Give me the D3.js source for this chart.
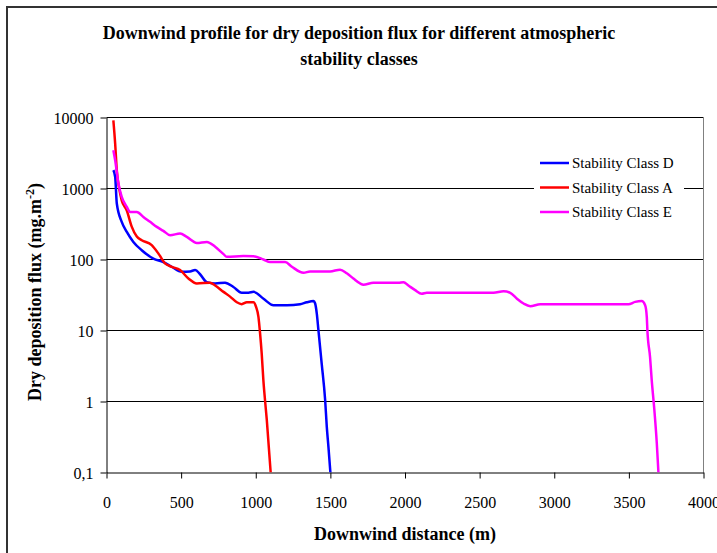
<!DOCTYPE html>
<html>
<head>
<meta charset="utf-8">
<script src="https://cdn.jsdelivr.net/npm/d3@7"></script>
<style>
  body { margin: 0; background: #fff; }
  svg { font-family: "Liberation Serif", "Times New Roman", serif; }
</style>
</head>
<body>
<div id="chart"></div>
<script>
// downwind distance (m) and flux (mg.m-2)
var distA = [46, 58, 69, 87, 102, 136, 169, 203, 236, 303, 348, 392, 437, 493, 549, 605, 694, 728, 784, 828, 873, 906, 940, 985, 1002, 1018, 1029, 1040, 1051, 1062, 1074, 1100];
var fluxA = [9100, 4300, 1800, 950, 680, 490, 290, 210, 187, 159, 121, 88, 79, 71, 54, 46, 47, 43, 35, 30, 25, 23.5, 25, 25, 21.5, 15.6, 9.1, 4.7, 2.0, 1.05, 0.55, 0.1];

var distD = [46, 58, 69, 102, 136, 180, 236, 314, 381, 437, 504, 560, 594, 627, 672, 728, 794, 850, 906, 951, 985, 1052, 1119, 1209, 1297, 1342, 1387, 1398, 1409, 1420, 1442, 1465, 1476, 1487, 1500];
var fluxD = [1810, 1460, 615, 339, 245, 177, 135, 103, 92, 79, 67, 68, 71, 62, 48, 46, 47, 41, 34, 34, 35, 28, 22.7, 22.7, 23.5, 25, 26, 24, 17.3, 10.1, 3.4, 1.05, 0.44, 0.23, 0.1];

var distE = [46, 58, 80, 102, 136, 158, 203, 247, 292, 337, 381, 426, 493, 538, 605, 672, 728, 784, 806, 917, 985, 1052, 1096, 1197, 1242, 1320, 1364, 1498, 1565, 1610, 1654, 1699, 1721, 1788, 1956, 1990, 2023, 2068, 2112, 2146, 2593, 2660, 2705, 2750, 2794, 2839, 2906, 3497, 3542, 3586, 3609, 3620, 3624, 3642, 3653, 3669, 3687, 3698];
var fluxE = [3460, 2500, 1175, 762, 551, 468, 468, 398, 339, 288, 253, 220, 232, 208, 171, 177, 151, 119, 109, 112, 111, 100, 92, 92, 79, 65, 68, 68, 72, 64, 54, 46, 44, 47, 47, 48, 43, 37, 33, 34, 34, 35.8, 34, 28, 24, 22, 23.4, 23.4, 25.3, 26, 22.7, 15.6, 10.1, 4.2, 2.0, 0.84, 0.26, 0.1];

var seriesNames = ["Stability Class D", "Stability Class A", "Stability Class E"];
var seriesColors = ["#0000ff", "#ff0000", "#ff00ff"];
var xTicks = [0, 500, 1000, 1500, 2000, 2500, 3000, 3500, 4000];
var yTicks = [0.1, 1, 10, 100, 1000, 10000];
var yTickLabels = ["0,1", "1", "10", "100", "1000", "10000"];

var series = [
  { name: seriesNames[0], color: seriesColors[0], x: distD, y: fluxD },
  { name: seriesNames[1], color: seriesColors[1], x: distA, y: fluxA },
  { name: seriesNames[2], color: seriesColors[2], x: distE, y: fluxE }
];

var W = 717, H = 553;
var margin = {top: 117, right: 14, bottom: 81, left: 106},
    width = W - margin.left - margin.right,
    height = H - margin.top - margin.bottom;

var svg = d3.select("#chart")
  .append("svg")
    .attr("width", W)
    .attr("height", H);

// outer chart border (only top/left visible)
svg.append("rect")
  .attr("x", 7).attr("y", 7)
  .attr("width", W + 20).attr("height", H + 20)
  .attr("fill", "none")
  .attr("stroke", "#333")
  .attr("stroke-width", 2);

var g = svg.append("g")
  .attr("transform", "translate(" + (margin.left + 0.5) + "," + (margin.top + 0.5) + ")");

var x = d3.scaleLinear().domain([0, 4000]).range([0, width]);
var y = d3.scaleLog().domain([0.1, 10000]).range([height, 0]);

// gridlines
g.append("g").selectAll("line")
  .data(yTicks.slice(1))
  .join("line")
    .attr("x1", 0).attr("x2", width)
    .attr("y1", d => Math.round(y(d))).attr("y2", d => Math.round(y(d)))
    .attr("stroke", "#000")
    .attr("stroke-width", 1);

// right border of plot area
g.append("line")
  .attr("x1", width).attr("x2", width)
  .attr("y1", 0).attr("y2", height)
  .attr("stroke", "#808080");

// axes
var xAxis = g.append("g")
  .attr("transform", "translate(0," + height + ")")
  .call(d3.axisBottom(x).tickValues(xTicks).tickSize(6).tickSizeOuter(0).tickFormat(d3.format("d")));
var yAxis = g.append("g")
  .call(d3.axisLeft(y).tickValues(yTicks).tickSize(6).tickSizeOuter(0)
    .tickFormat((d, i) => yTickLabels[i]));

[xAxis, yAxis].forEach(a => {
  a.select(".domain").attr("stroke", "#000");
  a.selectAll(".tick line").attr("stroke", "#000");
  a.selectAll("text")
    .attr("fill", "#000")
    .style("font-family", "Liberation Serif, serif")
    .style("font-size", "16px");
});
xAxis.selectAll("text").attr("dy", null).attr("y", 35);
yAxis.selectAll("text").attr("x", -13).attr("dy", "0.35em");

// lines
g.append("clipPath").attr("id", "clip")
  .append("rect").attr("x", 0).attr("y", -2).attr("width", width).attr("height", height + 2);

var line = d3.line()
  .x(d => x(d[0]))
  .y(d => y(d[1]))
  .curve(d3.curveMonotoneX);

g.append("g").attr("clip-path", "url(#clip)")
  .selectAll("path")
  .data(series)
  .join("path")
    .attr("fill", "none")
    .attr("stroke", d => d.color)
    .attr("stroke-width", 2.5)
    .attr("stroke-linejoin", "round")
    .attr("d", d => line(d.x.map((v, i) => [v, d.y[i]])));

// legend
var legend = svg.append("g").attr("transform", "translate(534,150)");
legend.append("rect")
  .attr("width", 150).attr("height", 75)
  .attr("fill", "#fff");
var items = legend.selectAll(".item")
  .data(series)
  .join("g")
    .attr("transform", (d, i) => "translate(6," + (13 + i * 24.5) + ")");
items.append("line")
  .attr("x1", 0).attr("x2", 29)
  .attr("stroke", d => d.color)
  .attr("stroke-width", 2.5);
items.append("text")
  .attr("x", 32).attr("dy", "0.35em")
  .style("font-size", "15px")
  .text(d => d.name);

// title
var title = svg.append("text")
  .attr("x", 359).attr("y", 39)
  .attr("text-anchor", "middle")
  .style("font-weight", "bold")
  .style("font-size", "18px");
title.append("tspan").attr("x", 359).text("Downwind profile for dry deposition flux for different atmospheric");
title.append("tspan").attr("x", 359).attr("dy", 26).text("stability classes");

// axis labels
svg.append("text")
  .attr("x", 405).attr("y", 540)
  .attr("text-anchor", "middle")
  .style("font-weight", "bold")
  .style("font-size", "18px")
  .text("Downwind distance (m)");

var yl = svg.append("text")
  .attr("transform", "translate(41,292) rotate(-90)")
  .attr("text-anchor", "middle")
  .style("font-weight", "bold")
  .style("font-size", "18px");
yl.append("tspan").text("Dry deposition flux (mg.m");
yl.append("tspan").attr("dy", -7).style("font-size", "12px").text("-2");
yl.append("tspan").attr("dy", 7).text(")");
</script>
</body>
</html>
